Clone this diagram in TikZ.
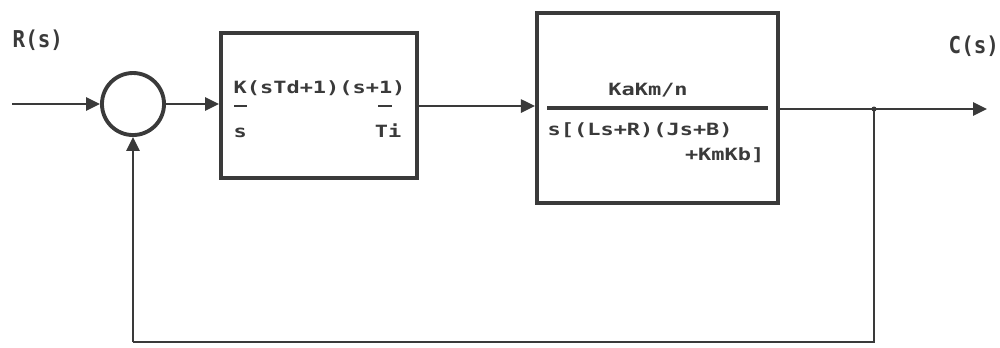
\documentclass[tikz,border=0pt]{standalone}
\usepackage{fontspec}
\newfontfamily\blkfont[FakeStretch=1.3]{DejaVu Sans Mono}
\newfontfamily\labfont[FakeStretch=0.9]{DejaVu Sans Mono}
\usetikzlibrary{arrows.meta}
\definecolor{ink}{HTML}{3A3A3A}
\begin{document}
\begin{tikzpicture}[x=0.01cm,y=-0.01cm,
  wire/.style={draw=ink, line width=0.75pt},
  arr/.style={wire, -{Triangle[length=1.4mm,width=1.3mm]}},
  blk/.style={draw=ink, line width=1.1pt, rectangle, inner sep=0pt},
  sumnode/.style={draw=ink, line width=1.1pt, circle, inner sep=0pt, minimum size=0.62cm},
  btxt/.style={font=\blkfont\bfseries\fontsize{4.8}{5}\selectfont, text=ink, inner sep=0pt},
  ltxt/.style={font=\labfont\bfseries\fontsize{6.6}{7}\selectfont, text=ink, inner sep=0pt},
  bar/.style={draw=ink, line width=0.7pt}
]
\useasboundingbox (0,0) rectangle (1000,347);
\fill[white] (0,0) rectangle (1000,347);

% labels
\node[ltxt, anchor=base west] (rlab) at (12,47) {R(s)};
\node[ltxt, anchor=base west] (clab) at (948,53) {C(s)};

% input start
\coordinate (in) at (12,104);
% summing junction
\node[sumnode] (sum) at (133,104) {};
% blocks
\node[blk, minimum width=1.96cm, minimum height=1.45cm] (b1) at (319,105.5) {};
\node[blk, minimum width=2.41cm, minimum height=1.90cm] (b2) at (657.5,108) {};

% block 1 text
\node[btxt, anchor=base west] (n1) at (233,93) {K(sTd+1)(s+1)};
\node[btxt, anchor=base west] (d1) at (233,137) {s};
\node[btxt, anchor=base east] (d2) at (402,137) {Ti};
\draw[bar] (234,106) -- (247,106);
\draw[bar] (378,106) -- (392,106);

% block 2 text
\node[btxt, anchor=base] (n2) at (648,95) {KaKm/n};
\draw[ink, line width=1pt] (547,108) -- (768,108);
\node[btxt, anchor=base west] (d3) at (547,135) {s[(Ls+R)(Js+B)};
\node[btxt, anchor=base east] (d4) at (765,160) {+KmKb]};

% connectors
\coordinate (out) at (987,109);
\coordinate (br) at (874,109);
\coordinate (fb1) at (874,342);
\coordinate (fb2) at (133,342);

\draw[arr] (in) -- (sum.west);
\draw[arr] (sum.east) -- (b1.west |- sum.east);
\draw[arr] (b1.east |- 0,106) -- (b2.west |- 0,106);
\draw[arr] (b2.east |- out) -- (out);
\draw[wire] (br) -- (fb1) -- (fb2);
\draw[arr] (fb2) -- (sum.south);
\fill[ink] (br) circle (0.25mm);
\end{tikzpicture}
\end{document}
